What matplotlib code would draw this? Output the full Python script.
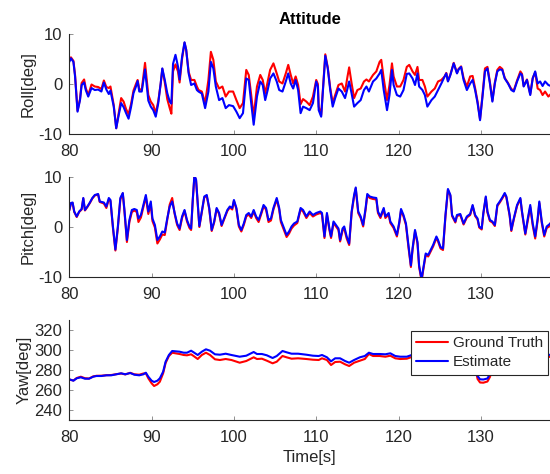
import matplotlib
matplotlib.use("Agg")
import matplotlib.pyplot as plt

plt.rcParams['font.family'] = ['Liberation Sans', 'DejaVu Sans']
plt.rcParams['axes.unicode_minus'] = False

# ---------------- Roll ----------------
roll_t = [80.0, 80.2, 80.5, 80.7, 81.0, 81.3, 81.5, 81.8, 82.0, 82.3, 82.7, 83.1, 83.5, 83.9,
          84.2, 84.5, 84.8, 85.0, 85.4, 85.7, 86.0, 86.3, 86.6, 86.9, 87.2, 87.5, 87.8, 88.1,
          88.3, 88.5, 88.8, 89.2, 89.6, 89.9, 90.2, 90.5, 90.8, 91.1, 91.3, 91.6, 91.9, 92.2,
          92.4, 92.6, 92.9, 93.2, 93.4, 93.7, 94.0, 94.2, 94.5, 94.8, 95.2, 95.5, 95.7, 96.1,
          96.5, 96.9, 97.2, 97.5, 97.8, 98.2, 98.6, 99.0, 99.4, 99.9, 100.3, 100.7, 101.1, 101.5,
          101.8, 102.1, 102.4, 102.8, 103.2, 103.5, 103.8, 104.1, 104.4, 104.8, 105.2, 105.5,
          105.9, 106.3, 106.6, 106.9, 107.2, 107.5, 107.8, 108.1, 108.4, 108.8, 109.2, 109.6,
          110.0, 110.2, 110.3, 110.6, 110.9, 111.1, 111.4, 111.7, 112.0, 112.3, 112.7, 113.1,
          113.5, 113.8, 114.0, 114.3, 114.6, 115.0, 115.4, 115.8, 116.1, 116.4, 116.9, 117.3,
          117.7, 117.9, 118.2, 118.6, 118.9, 119.2, 119.4, 119.8, 120.2, 120.6, 121.0, 121.3,
          121.7, 122.0, 122.3, 122.5, 122.9, 123.2, 123.5, 124.0, 124.4, 124.8, 125.2, 125.6,
          125.8, 126.0, 126.3, 126.7, 127.1, 127.3, 127.6, 127.9, 128.3, 128.7, 129.0, 129.3,
          129.6, 129.9, 130.2, 130.5, 130.8, 131.1, 131.4, 131.7, 132.0, 132.3, 132.6, 132.9,
          133.3, 133.7, 134.0, 134.4, 134.8, 135.0, 135.2, 135.6, 136.0, 136.3, 136.6, 136.9,
          137.2, 137.5, 137.8, 138.2, 138.5]
roll_est = [4.4, 5.1, 4.4, 1.5, -5.5, -3.2, -0.2, 0.3, -1.2, -2.5, -0.8, -1.2, -1.1, -1.5,
            0.3, -1.1, -2.0, -1.3, -4.5, -8.8, -6.2, -3.8, -4.6, -5.8, -6.9, -4.6, -1.8, -0.5,
            0.6, -1.5, -1.5, 2.9, -3.3, -4.5, -5.2, -6.5, -3.9, 0.1, 3.1, 0.8, -1.8, -3.5,
            -3.9, 4.0, 5.8, 3.5, 0.9, 5.4, 8.3, 6.8, 2.1, -0.2, 0.1, -1.2, -1.5, -1.9,
            -4.8, -1.5, 4.4, 3.1, -0.5, -3.2, -2.8, -4.8, -4.2, -4.4, -5.5, -6.8, -5.8, 1.1,
            0.8, -3.8, -8.1, -2.5, 0.5, -0.2, -3.2, -1.2, 1.1, 2.1, 0.5, -1.2,
            -1.5, 0.5, 2.1, 0.1, -0.9, 0.8, -1.2, -5.8, -4.5, -4.8, -5.2, -3.8,
            0.5, -0.5, -5.2, -6.5, 0.8, 5.6, 3.1, -1.2, -4.5, -2.8, -0.9, -1.5,
            -2.8, -0.9, 0.5, -1.9, -4.5, -3.8, -3.2, -1.2, -0.5, -1.5, 0.5, 1.1,
            2.1, 2.8, -1.2, -5.2, -2.2, 2.8, -0.2, -2.2, -2.5, -1.2, 2.0, 2.1,
            1.1, -0.2, 2.1, -0.5, -1.2, -2.2, -4.5, -3.2, -2.5, -1.2, 0.1, 1.5,
            2.1, 0.5, 1.8, 4.1, 2.1, 2.9, 3.4, 0.8, -1.2, 0.1, 0.8, -1.2,
            -3.8, -7.2, -2.5, 2.5, 3.1, 0.1, -3.5, 0.1, 2.5, 2.9, 2.8, 1.1,
            0.1, -1.2, -1.5, 0.5, 2.1, 1.8, -0.5, 0.8, -2.2, 1.1, 2.5, 0.1,
            0.5, -0.4, 0.5, -0.2, -0.4]
roll_gt = [5.0, 5.3, 4.6, 1.8, -5.3, -3.0, 0.2, 0.9, -0.8, -2.2, -0.1, -0.5, -0.6, -1.0,
           0.7, -0.6, -0.8, -0.5, -4.2, -8.8, -5.8, -2.8, -3.5, -5.0, -6.0, -4.0, -1.3, 0.0,
           0.8, -1.0, -1.2, 4.2, -2.2, -3.5, -4.2, -5.8, -3.5, 0.0, 3.0, 0.3, -3.0, -4.8,
           -5.9, 2.5, 3.9, 2.5, 0.3, 5.0, 8.2, 6.8, 2.4, 0.8, 0.8, -0.5, -1.2, -1.5,
           -3.8, 0.8, 6.4, 4.8, 0.5, -0.9, -0.5, -2.5, -1.5, -1.5, -3.2, -4.8, -3.8, 2.8,
           1.8, -2.2, -6.5, -0.5, 1.8, 0.8, -1.9, 0.5, 2.8, 4.1, 2.1, 0.5,
           0.1, 2.1, 3.8, 1.8, 0.1, 1.5, -0.2, -4.0, -3.0, -3.5, -4.2, -2.5,
           0.8, 0.0, -4.5, -6.2, 1.0, 5.9, 3.3, -0.8, -3.8, -2.2, -0.2, 0.1,
           -1.5, 1.5, 3.3, 0.1, -2.8, -1.2, -0.9, 0.5, 0.9, 0.5, 1.8, 2.5,
           4.4, 4.8, 1.1, -3.2, -0.2, 4.1, 1.5, -0.5, -0.5, 0.8, 3.4, 3.8,
           2.5, 1.8, 3.4, 0.8, 0.8, -0.5, -2.5, -1.5, -0.9, 0.5, 0.8, 1.5,
           2.2, 0.6, 1.9, 4.2, 2.2, 3.0, 3.5, 1.2, -0.5, 1.5, 1.6, -0.8,
           -3.5, -7.0, -2.2, 3.1, 3.4, 0.4, -3.3, 0.3, 2.8, 3.4, 3.0, 1.2,
           0.2, -1.0, -1.3, 0.7, 2.5, 2.0, -0.4, 0.9, -2.0, 1.2, 2.3, -0.9,
           -1.2, -2.2, -1.5, -2.5, -2.0]

# ---------------- Pitch ----------------
pitch_t = [80.0, 80.2, 80.4, 80.6, 80.9, 81.2, 81.5, 81.7, 81.9, 82.2, 82.5, 82.8, 83.1, 83.5,
           83.7, 84.2, 84.5, 84.8, 85.0, 85.3, 85.6, 85.9, 86.2, 86.5, 86.7, 87.0, 87.3, 87.6,
           87.9, 88.2, 88.4, 88.7, 89.0, 89.3, 89.6, 89.9, 90.1, 90.4, 90.7, 91.0, 91.3, 91.6,
           91.9, 92.2, 92.5, 92.8, 93.1, 93.4, 93.7, 94.0, 94.3, 94.6, 94.8, 95.0, 95.2, 95.4,
           95.6, 95.8, 96.1, 96.4, 96.7, 97.0, 97.3, 97.6, 97.9, 98.2, 98.5, 98.8, 99.2, 99.5,
           99.8, 100.0, 100.3, 100.6, 100.9, 101.2, 101.5, 101.8, 102.1, 102.4, 102.7, 103.0,
           103.3, 103.6, 103.9, 104.2, 104.5, 104.8, 105.2, 105.5, 105.7, 106.0, 106.4, 106.7,
           107.0, 107.3, 107.7, 108.1, 108.4, 108.8, 109.2, 109.6, 110.0, 110.5, 110.7, 111.0,
           111.3, 111.6, 111.8, 112.1, 112.4, 112.7, 112.9, 113.2, 113.4, 113.7, 114.0, 114.3,
           114.6, 114.8, 115.1, 115.4, 115.7, 116.0, 116.2, 116.5, 116.9, 117.3, 117.5, 117.8,
           118.2, 118.4, 118.8, 119.0, 119.4, 119.8, 120.1, 120.3, 120.6, 120.9, 121.2, 121.5,
           121.7, 122.0, 122.3, 122.5, 122.8, 123.0, 123.3, 123.6, 123.9, 124.2, 124.6, 124.8,
           125.1, 125.4, 125.7, 126.0, 126.3, 126.5, 126.9, 127.1, 127.5, 127.9, 128.3, 128.7,
           129.0, 129.3, 129.6, 129.8, 130.1, 130.3, 130.6, 130.8, 131.1, 131.4, 131.7, 132.0,
           132.3, 132.6, 132.9, 133.1, 133.5, 133.7, 134.0, 134.4, 134.8, 135.0, 135.4, 135.7,
           136.0, 136.3, 136.6, 136.9, 137.1, 137.4, 137.7, 138.0, 138.3, 138.5]
pitch_est = [3.4, 4.8, 4.9, 3.1, 2.1, 3.1, 3.6, 5.8, 3.4, 4.1, 4.9, 5.8, 6.4, 6.6,
             5.1, 4.9, 4.1, 5.8, 5.4, 0.1, -4.5, 0.1, 5.8, 6.8, 3.4, -2.6, 1.4, 3.4,
             3.6, 3.4, 1.7, 2.4, 4.4, 6.4, 3.1, 5.1, 1.7, 0.4, -2.6, -1.9, -0.9, -1.1,
             1.7, 4.1, 5.1, 2.8, 0.7, -0.3, 2.1, 3.4, 1.4, 0.1, -0.3, 5.5, 10.3, 9.5,
             5.0, 0.2, 3.1, 6.1, 6.4, 3.8, -0.6, 1.1, 3.8, 2.8, 0.4, 1.7, 3.4, 4.1,
             3.8, 5.4, 3.8, 0.4, -0.6, 0.7, 2.4, 2.8, 2.1, 3.4, 2.1, 1.4,
             2.8, 4.4, 3.8, 1.4, 1.7, 3.8, 5.8, 3.8, 1.4, 0.1, -1.6, -0.9,
             0.1, 0.7, 1.1, 3.8, 3.4, 2.1, 3.1, 2.4, 2.8, 3.1, 2.8, -1.9,
             2.8, -0.3, -1.9, 1.1, 0.4, -0.3, -2.6, -0.3, 0.1, -1.9, -3.3, 3.1,
             6.4, 7.9, 3.1, 2.1, 0.4, 3.8, 6.6, 6.1, 5.9, 5.8, 3.1, 2.1,
             3.8, 2.1, 2.8, 1.1, 0.1, -1.6, 1.1, 3.6, 2.4, 0.7, -3.6, -7.7,
             -4.3, -0.6, -3.0, -7.7, -10.5, -8.3, -5.3, -5.6, -4.6, -3.6, -1.9, -2.6,
             -4.0, -4.3, 2.4, 7.6, 6.4, 2.4, 1.1, 2.4, 2.6, 0.7, 2.1, 2.6,
             4.4, 2.4, 1.7, 0.1, -0.3, 2.8, 6.1, 3.1, 1.4, 1.1, 0.4, 4.4,
             5.1, 5.9, 6.8, 6.1, 2.4, -0.6, 1.7, 4.4, 5.8, 3.1, -1.3, 1.7,
             4.4, 0.7, -1.9, 1.7, 5.1, 1.1, -1.6, 0.1, 0.5, 0.8]
pitch_gt = [3.3, 4.7, 4.8, 3.0, 2.0, 3.0, 3.5, 5.7, 3.3, 4.0, 4.8, 5.7, 6.3, 6.5,
            5.0, 4.7, 3.8, 5.5, 5.2, -0.2, -4.7, -0.2, 5.5, 6.7, 3.1, -3.0, 1.0, 3.0,
            3.3, 3.0, 1.0, 1.9, 4.0, 6.0, 2.6, 4.6, 1.2, -0.1, -3.3, -2.5, -1.5, -1.6,
            1.4, 4.5, 5.8, 2.6, 0.4, -0.6, 1.8, 3.2, 1.1, -0.2, -0.6, 5.3, 10.2, 9.3,
            4.8, 0.0, 2.9, 5.9, 6.2, 3.6, -0.8, 0.9, 3.6, 2.6, 0.2, 1.5, 3.2, 3.9,
            3.5, 5.2, 3.6, 0.1, -0.9, 0.4, 2.1, 2.5, 1.8, 3.1, 1.8, 1.0,
            2.5, 4.1, 3.5, 1.0, 1.3, 3.5, 5.5, 3.5, 1.0, -0.3, -2.0, -1.3,
            -0.3, 0.3, 0.8, 3.5, 3.1, 1.8, 2.8, 2.1, 2.5, 2.8, 2.5, -2.2,
            2.5, -0.6, -2.2, 0.8, 0.1, -0.6, -2.9, -0.7, -0.3, -2.3, -3.6, 2.8,
            6.1, 7.7, 2.8, 1.8, 0.1, 3.5, 6.3, 5.8, 5.6, 5.5, 2.8, 1.8,
            3.5, 1.8, 2.5, 0.8, -0.2, -1.9, 0.8, 3.3, 2.1, 0.4, -4.0, -8.0,
            -4.6, -0.9, -3.3, -8.0, -10.8, -8.6, -5.6, -5.9, -4.9, -3.9, -2.2, -2.9,
            -4.3, -4.6, 2.1, 7.4, 6.2, 2.2, 0.9, 2.2, 2.4, 0.5, 1.9, 2.4,
            4.2, 2.2, 1.5, -0.1, -0.5, 2.6, 5.9, 2.9, 1.2, 0.9, 0.2, 4.2,
            4.9, 5.7, 6.6, 5.9, 2.2, -0.8, 1.5, 4.2, 5.6, 2.9, -1.5, 1.3,
            4.0, 0.3, -2.3, 1.3, 4.8, 0.8, -1.9, -0.2, 0.1, 0.9]

# ---------------- Yaw ----------------
yaw_t = [80.0, 80.5, 80.9, 81.4, 81.9, 82.4, 82.9, 83.3, 83.9, 84.5, 85.1, 85.7, 86.3, 86.8,
         87.4, 87.9, 88.5, 89.0, 89.3, 89.6, 90.0, 90.3, 90.7, 91.0, 91.4, 91.7, 92.1, 92.5,
         92.9, 93.4, 93.9, 94.3, 94.8, 95.1, 95.6, 96.1, 96.6, 97.1, 97.7, 98.3, 99.0, 99.7,
         100.7, 101.5, 102.4, 102.8, 103.4, 104.0, 104.7, 105.2, 105.9, 106.4, 107.0, 107.8,
         108.8, 109.6, 110.3, 110.7, 111.3, 111.8, 112.3, 112.9, 113.5, 114.0, 114.6, 115.3,
         115.9, 116.4, 116.9, 117.7, 118.4, 119.0, 119.6, 120.2, 121.0, 121.6, 122.5, 123.5,
         124.5, 125.5, 126.5, 127.5, 128.5, 129.2, 129.6, 129.9, 130.3, 130.8, 131.1, 131.6,
         132.5, 133.5, 134.5, 135.5, 136.5, 137.5, 138.5]
yaw_est = [270.7, 269.3, 271.7, 272.7, 271.3, 271.3, 273.3, 274.0, 274.0, 274.7, 274.7, 275.7,
           276.7, 275.7, 277.0, 275.3, 274.7, 275.7, 277.3, 273.3, 269.3, 268.0, 269.3, 271.7,
           278.3, 288.3, 295.0, 299.0, 298.7, 298.3, 297.3, 297.3, 299.3, 297.7, 295.0, 298.3,
           300.7, 299.3, 295.7, 295.3, 296.3, 295.0, 293.3, 294.3, 298.0, 296.0, 296.0, 294.7,
           292.0, 294.0, 299.0, 297.7, 296.3, 296.3, 295.3, 294.3, 294.0, 295.0, 292.7, 288.7,
           291.7, 291.7, 289.0, 287.3, 290.0, 292.7, 294.0, 297.3, 296.0, 296.0, 295.7, 296.7,
           294.0, 293.3, 293.3, 295.0, 296.0, 297.0, 296.0, 295.5, 296.5, 295.0, 294.0, 290.0,
           274.0, 270.7, 270.5, 271.5, 276.0, 290.0, 295.0, 296.0, 295.0, 296.0, 295.5, 296.0,
           295.0]
yaw_gt = [270.5, 269.5, 272.0, 273.3, 271.8, 271.5, 273.6, 274.2, 274.3, 274.8, 275.0, 275.8,
          276.5, 275.6, 277.2, 275.7, 275.3, 276.5, 276.7, 271.7, 266.7, 264.0, 265.7, 268.3,
          276.7, 287.0, 294.0, 297.3, 296.7, 296.0, 295.0, 294.7, 295.7, 294.0, 291.0, 295.0,
          297.3, 295.0, 290.7, 290.0, 291.0, 290.0, 287.3, 289.0, 292.7, 291.0, 291.3, 289.3,
          286.7, 288.3, 294.0, 292.7, 291.3, 291.7, 291.0, 290.3, 290.0, 291.7, 290.0, 285.0,
          288.0, 288.3, 285.7, 284.0, 287.3, 289.3, 291.0, 296.0, 294.0, 294.0, 293.3, 294.3,
          291.7, 291.0, 291.3, 293.0, 294.0, 295.0, 294.5, 294.0, 295.0, 293.5, 292.0, 288.0,
          271.0, 267.5, 267.3, 268.5, 273.0, 287.0, 293.0, 294.0, 293.0, 294.0, 293.5, 294.0,
          293.0]

x_ticks = [80, 90, 100, 110, 120, 130]
roll_ticks = [-10, 0, 10]
pitch_ticks = [-10, 0, 10]
yaw_ticks = [240, 260, 280, 300, 320]

GT_COLOR = '#ff0000'
EST_COLOR = '#0000ff'
TXT = '#262626'
FS = 12

fig = plt.figure(figsize=(5.5, 4.74), dpi=100)
left, width = 0.126, 0.874
ax1 = fig.add_axes([left, 0.7167, width, 0.2122])
ax2 = fig.add_axes([left, 0.4156, width, 0.2110])
ax3 = fig.add_axes([left, 0.1139, width, 0.2110])

panels = [
    (ax1, roll_t, roll_gt, roll_est, (-10, 10), roll_ticks, 'Roll[deg]'),
    (ax2, pitch_t, pitch_gt, pitch_est, (-10, 10), pitch_ticks, 'Pitch[deg]'),
    (ax3, yaw_t, yaw_gt, yaw_est, (230, 330), yaw_ticks, 'Yaw[deg]'),
]
for ax, t, gt, est, ylim, yt, lab in panels:
    ax.plot(t, gt, color=GT_COLOR, lw=1.5, label='Ground Truth',
            solid_joinstyle='round', solid_capstyle='round')
    ax.plot(t, est, color=EST_COLOR, lw=1.5, label='Estimate',
            solid_joinstyle='round', solid_capstyle='round')
    ax.set_xlim(80, 138.4)
    ax.set_ylim(*ylim)
    ax.set_xticks(x_ticks)
    ax.set_yticks(yt)
    ax.set_ylabel(lab, fontsize=FS, color=TXT, labelpad=2)
    for s in ['top', 'right']:
        ax.spines[s].set_visible(False)
    for s in ['left', 'bottom']:
        ax.spines[s].set_color(TXT)
        ax.spines[s].set_linewidth(0.8)
    ax.tick_params(direction='in', length=3, width=0.6, color='#808080',
                   labelsize=FS, labelcolor=TXT)
    ax.tick_params(axis='x', pad=7)
    ax.tick_params(axis='y', pad=5)

ax1.set_title('Attitude', fontsize=FS, fontweight='bold', color='black', pad=7)
ax3.set_xlabel('Time[s]', fontsize=FS, color=TXT, labelpad=4)

leg = ax3.legend(loc='upper left', bbox_to_anchor=(411 / 550, 1 - 330.7 / 474),
                 bbox_transform=fig.transFigure, borderaxespad=0, fontsize=11,
                 frameon=True, fancybox=False, edgecolor=TXT, framealpha=1,
                 handlelength=2.1, handletextpad=0.3, labelspacing=0.35, borderpad=0.35)
leg.get_frame().set_linewidth(0.8)
for txt in leg.get_texts():
    txt.set_color(TXT)

fig.savefig('out.png', dpi=100, facecolor='white')
